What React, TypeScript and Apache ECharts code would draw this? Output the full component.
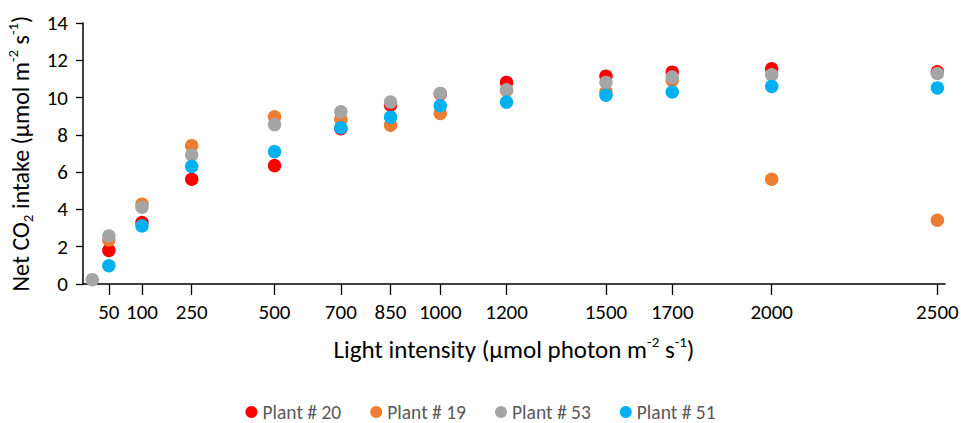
import React, { useEffect, useRef } from "react";
import * as echarts from "echarts";

// x positions of the measurement columns and the labels printed under them
const xPositions = [0, 100, 250, 500, 700, 850, 1000, 1200, 1500, 1700, 2000, 2500];
const tickLabels = ["50", "100", "250", "500", "700", "850", "1000", "1200", "1500", "1700", "2000", "2500"];

// Net CO2 intake per plant (µmol m-2 s-1)
const plant20 = [1.8, 3.3, 5.62, 6.35, 8.33, 9.6, 10.2, 10.81, 11.15, 11.36, 11.54, 11.38];
const plant19 = [2.37, 4.28, 7.42, 8.97, 8.83, 8.52, 9.15, 10.38, 10.3, 10.92, 5.62, 3.42];
const plant53 = [2.58, 4.12, 6.92, 8.55, 9.24, 9.76, 10.22, 10.42, 10.81, 11.1, 11.22, 11.29];
const plant51 = [0.98, 3.12, 6.31, 7.1, 8.38, 8.95, 9.56, 9.76, 10.13, 10.3, 10.6, 10.52];
// dark reading for plant #53
const plant53Dark: [number, number][] = [[-50, 0.23]];

const seriesNames = ["Plant # 20", "Plant # 19", "Plant # 53", "Plant # 51"];
const seriesColors = ["#FF0000", "#ED7D31", "#A5A5A5", "#00B0F0"];

const FONT = "Carlito, Lato, 'Open Sans', sans-serif";

const pairs = (vals: number[]) => vals.map((v, i) => [xPositions[i], v]);

export default function App() {
  const ref = useRef<HTMLDivElement>(null);

  useEffect(() => {
    if (!ref.current) return;
    const chart = echarts.init(ref.current, undefined, { renderer: "svg" });
    const seriesData = [
      pairs(plant20),
      pairs(plant19),
      [...plant53Dark, ...pairs(plant53)],
      pairs(plant51),
    ];
    chart.setOption({
      animation: false,
      backgroundColor: "#fff",
      textStyle: { fontFamily: FONT },
      grid: { left: 83, right: 16, top: 23, bottom: 139, containLabel: false, outerBoundsMode: "none" },
      legend: {
        top: 397,
        left: "center",
        icon: "circle",
        itemWidth: 12,
        itemHeight: 12,
        itemGap: 29,
        textStyle: { color: "#595959", fontSize: 19.5, fontFamily: FONT },
        data: seriesNames,
      },
      xAxis: {
        type: "value",
        min: -78,
        max: 2523,
        name: "{n|Light intensity (µmol photon m}{sup|-2}{n| s}{sup|-1}{n|)}",
        nameLocation: "middle",
        nameGap: 50,
        nameTextStyle: {
          fontFamily: FONT,
          rich: {
            n: { fontSize: 25, color: "#000", fontFamily: FONT, lineHeight: 30 },
            sup: { fontSize: 15, color: "#000", fontFamily: FONT, verticalAlign: "top", lineHeight: 30, padding: [0, 0, 10, 0] },
          },
        },
        axisLine: { show: true, onZero: false, lineStyle: { color: "#000", width: 1.5 } },
        axisTick: {
          show: true,
          customValues: xPositions,
          length: 11,
          lineStyle: { color: "#000", width: 1.3 },
        },
        axisLabel: {
          customValues: xPositions,
          formatter: (v: number) => {
            const i = xPositions.indexOf(v);
            return i >= 0 ? tickLabels[i] : "";
          },
          margin: 17,
          fontSize: 21,
          color: "#000",
          fontFamily: FONT,
        },
        splitLine: { show: false },
      },
      yAxis: {
        type: "value",
        min: 0,
        max: 14,
        interval: 2,
        name: "{n|Net CO}{sub|2}{n| intake (µmol m}{sup|-2}{n| s}{sup|-1}{n|)}",
        nameLocation: "middle",
        nameRotate: 90,
        nameGap: 46,
        nameTextStyle: {
          fontFamily: FONT,
          rich: {
            n: { fontSize: 24, color: "#000", fontFamily: FONT, lineHeight: 30 },
            sub: { fontSize: 15, color: "#000", fontFamily: FONT, verticalAlign: "bottom", lineHeight: 30, padding: [10, 0, 0, 0] },
            sup: { fontSize: 15, color: "#000", fontFamily: FONT, verticalAlign: "top", lineHeight: 30, padding: [0, 0, 10, 0] },
          },
        },
        axisLine: { show: true, onZero: false, lineStyle: { color: "#000", width: 1.5 } },
        axisTick: { show: true, length: 7, lineStyle: { color: "#000", width: 1.3 } },
        axisLabel: { margin: 15, fontSize: 21, color: "#000", fontFamily: FONT },
        splitLine: { show: false },
      },
      series: seriesNames.map((name, i) => ({
        name,
        type: "scatter",
        symbol: "circle",
        symbolSize: 13.5,
        itemStyle: { color: seriesColors[i], opacity: 1 },
        data: seriesData[i],
        z: 2 + i,
      })),
    });
    return () => chart.dispose();
  }, []);

  return (
    <div
      ref={ref}
      style={{ position: "fixed", left: 0, top: 0, width: 961, height: 423, background: "#fff" }}
    />
  );
}
